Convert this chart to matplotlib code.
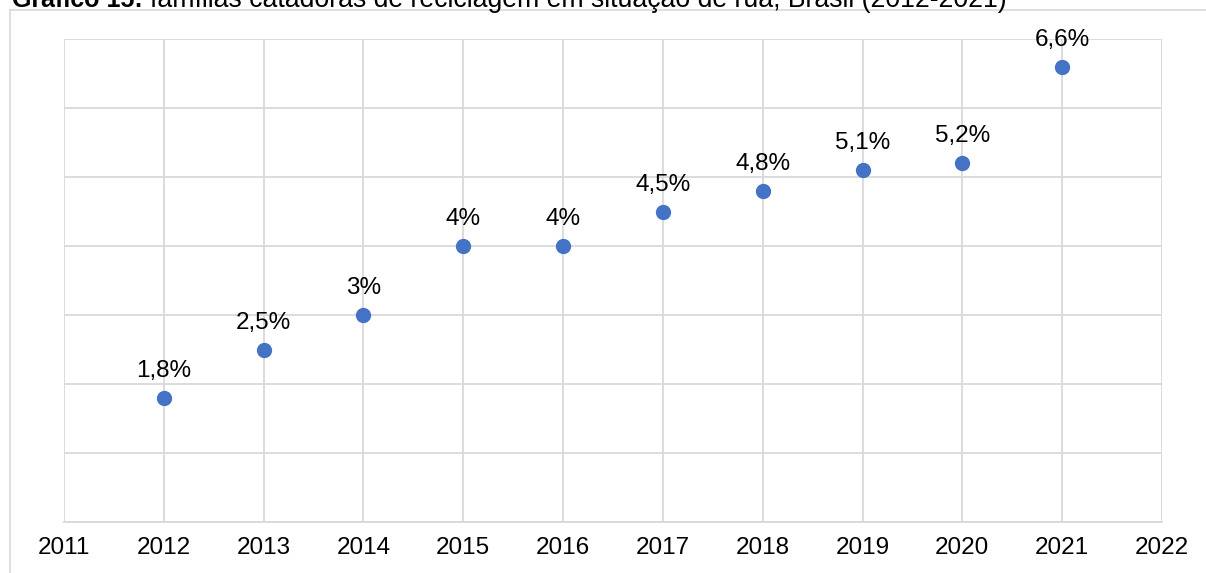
import matplotlib
matplotlib.use("Agg")
import matplotlib.pyplot as plt
from matplotlib.lines import Line2D

years = [2012, 2013, 2014, 2015, 2016, 2017, 2018, 2019, 2020, 2021]
values = [1.8, 2.5, 3.0, 4.0, 4.0, 4.5, 4.8, 5.1, 5.2, 6.6]
labels = ["1,8%", "2,5%", "3%", "4%", "4%", "4,5%", "4,8%", "5,1%", "5,2%", "6,6%"]
xticks = list(range(2011, 2023))
title_bold = "Gráfico 15:"
title_rest = "famílias catadoras de reciclagem em situação de rua, Brasil (2012-2021)"

plt.rcParams['font.family'] = ['Liberation Sans', 'DejaVu Sans']

W, H = 1206, 573
fig = plt.figure(figsize=(W / 100, H / 100), dpi=100)
ax = fig.add_axes([64 / W, 1 - 522 / H, (1162 - 64) / W, (522 - 39) / H])

grid_c = '#D9D9D9'
ax.set_xlim(2011, 2022)
ax.set_ylim(0, 7)
ax.set_xticks(xticks)
ax.set_yticks(range(0, 8))
ax.set_yticklabels([])
ax.grid(True, color=grid_c, linewidth=1.3)
ax.set_axisbelow(True)
for s in ['left', 'right', 'top']:
    ax.spines[s].set_visible(False)
ax.spines['bottom'].set_color(grid_c)
ax.spines['bottom'].set_linewidth(1.3)
ax.tick_params(axis='both', length=0)
ax.tick_params(axis='x', labelsize=17.5, pad=11, labelcolor='black')

ax.plot(years, values, 'o', color='#4472C4', markersize=10, linestyle='none', zorder=3)
for x, y, t in zip(years, values, labels):
    ax.annotate(t, (x, y), xytext=(0, 15), textcoords='offset points',
                ha='center', va='baseline', fontsize=17.5, color='black')

# outer frame (partially visible)
fig.add_artist(Line2D([9.5 / W, 9.5 / W], [0, 1 - 10 / H], color=grid_c, linewidth=1.2,
                      transform=fig.transFigure))
fig.add_artist(Line2D([9.5 / W, 1], [1 - 10 / H, 1 - 10 / H], color=grid_c, linewidth=1.2,
                      transform=fig.transFigure))

# title, cut off at the top as in the reference
base_y = 1 - 7 / H
t1 = fig.text(12 / W, base_y, title_bold, fontsize=16, fontweight='bold',
              ha='left', va='baseline')
t2 = fig.text(150 / W, base_y, title_rest, fontsize=16, ha='left', va='baseline')
fig.canvas.draw()
r = fig.canvas.get_renderer()
w1 = t1.get_window_extent(r).width
w2 = t2.get_window_extent(r).width
t1.set_fontsize(16 * 131 / w1)
t2.set_fontsize(16 * 860 / w2)

fig.savefig("out.png", dpi=100)
